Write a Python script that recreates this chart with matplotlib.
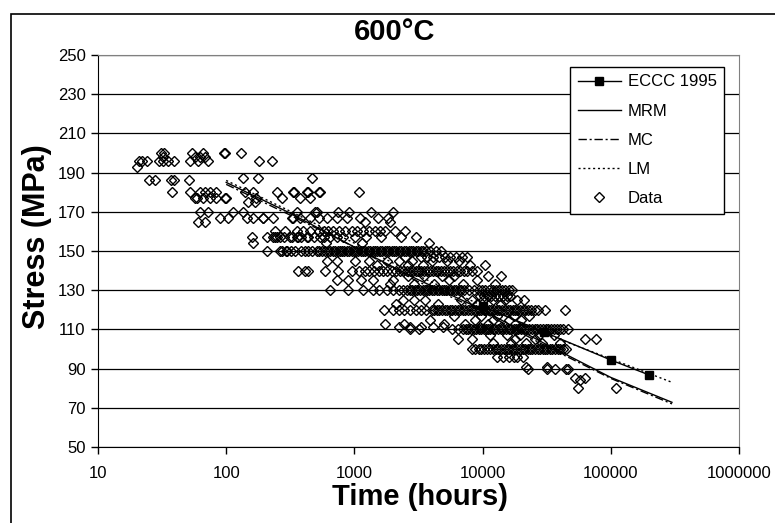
import numpy as np
import matplotlib.pyplot as plt
from matplotlib.patches import Rectangle
from matplotlib.ticker import FixedLocator, NullLocator

plt.rcParams['font.family'] = ['Liberation Sans', 'DejaVu Sans']

# model curves (time in hours, stress in MPa)
eccc_t = [10000, 30000, 100000, 200000]
eccc_s = [121.7, 108.7, 94.4, 86.7]
model_t = [100, 300, 1000, 3000, 10000, 30000, 100000, 300000]
mrm_s = [185, 170, 152, 136, 120, 103, 85.5, 72.8]
mc_s = [184, 169, 152, 135, 119, 102, 85, 72]
lm_s = [186, 171, 154, 138, 122, 108, 95, 83]

# test data, grouped by stress level (MPa) -> rupture times (h)
t_200 = [31, 33, 54, 66, 96, 97, 130]
t_198 = [32, 57, 62, 68]
t_196 = [21, 22, 24, 30, 32, 35, 39, 52, 60, 72, 180, 228]
t_193 = [20]
t_187 = [135, 178, 465]
t_186 = [25, 28, 37, 39, 51]
t_180 = [38, 52, 62, 68, 75, 84, 140, 163, 250, 330, 335, 425, 435, 525, 535,
         1090]
t_177 = [57, 59, 66, 75, 84, 98, 100, 172, 270, 375, 450]
t_175 = [148, 167]
t_170 = [62, 72, 113, 136, 355, 490, 510, 750, 915, 1350, 2010]
t_167 = [89, 104, 144, 163, 193, 195, 233, 325, 330, 375, 450, 525, 610, 730,
         870, 1100, 1540, 1840]
t_165 = [60, 68, 1200, 1900]
t_160 = [240, 285, 355, 400, 450, 525, 575, 625, 685, 765, 850, 950, 1050,
         1170, 1300, 1440, 1580, 1720, 2080, 2500]
t_157 = [158, 207, 233, 240, 250, 262, 280, 313, 325, 355, 365, 385, 425, 435,
         480, 535, 580, 640, 730, 820, 1010, 1240, 1600, 2300, 3000]
t_154 = [163, 600, 1150, 3800]
t_150 = [207, 262, 270, 295, 300, 320, 345, 380, 410, 435, 470, 510, 530, 560,
         590, 620, 650, 680, 710, 740, 770, 800, 830, 870, 910, 950, 990, 1030,
         1070, 1120, 1170, 1220, 1270, 1330, 1390, 1450, 1510, 1580, 1650, 1720,
         1790, 1870, 1950, 2040, 2130, 2230, 2330, 2430, 2540, 2650, 2770, 2890,
         3020, 3150, 3280, 3420, 3600, 3900, 4300, 4700]
t_147 = [2500, 3300, 3700, 4100, 4600, 5100, 5600, 6200, 6900, 7500]
t_145 = [610, 730, 1010, 1310, 1790, 2230, 2800, 4000, 5300, 6500]
t_143 = [1500, 2600, 3400, 8000, 10500]
t_140 = [365, 410, 435, 590, 750, 950, 1090, 1200, 1310, 1430, 1560, 1680,
         1800, 1950, 2100, 2250, 2400, 2550, 2700, 2850, 3000, 3150, 3300,
         3500, 3700, 3900, 4100, 4300, 4500, 4750, 5000, 5300, 5600, 5900,
         6300, 6700, 7200, 7600, 8200, 9000]
t_137 = [2600, 3500, 4800, 6000, 11000, 13900]
t_135 = [730, 890, 1130, 1400, 2000, 5500, 9000]
t_133 = [1900, 2900, 4200, 7000, 12500]
t_130 = [640, 890, 1170, 1400, 1560, 1790, 2010, 2230, 2400, 2570, 2700, 2800,
         2950, 3100, 3250, 3400, 3550, 3700, 3850, 4000, 4200, 4400, 4600, 4800,
         5000, 5200, 5450, 5700, 5950, 6200, 6500, 6800, 7100, 7800, 8500, 9300,
         9900, 10500, 11200, 12000, 12700, 13500, 14200, 15000, 16000, 17000]
t_127 = [9500, 10200, 11000, 11700, 12500, 13500, 14500, 15500, 16500]
t_125 = [2400, 2900, 3530, 6800, 8300, 10000, 12000, 15000, 18500, 21000]
t_123 = [2100, 4500, 9000, 14000]
t_120 = [1700, 2010, 2230, 2450, 2700, 3000, 3300, 3600, 4000, 4200, 4400,
         4600, 4800, 5050, 5300, 5550, 5800, 6100, 6400, 6700, 7000, 7350,
         7700, 8100, 8500, 8900, 9300, 9750, 10200, 10700, 11200, 11700, 12300,
         12900, 13500, 14200, 15000, 15700, 16500, 17200, 18000, 18700, 19500,
         20500, 21500, 22700, 24000, 25500, 27000, 30600, 44000]
t_117 = [6000, 9800, 13000, 17500, 23000]
t_115 = [3900, 8800, 12000, 16000, 20000]
t_113 = [1720, 2450, 5000, 7300, 11000]
t_111 = [2230, 2700, 3300, 4100, 4900, 9500, 14000, 20000]
t_110 = [2700, 3200, 5800, 6400, 7000, 7400, 7700, 8100, 8500, 8900, 9300,
         9800, 10200, 10600, 11000, 11500, 12000, 12600, 13200, 13800, 14500,
         15200, 16000, 16700, 17500, 18200, 19000, 20000, 21000, 22000, 23000,
         24200, 25500, 26700, 28000, 29500, 31000, 32500, 34000, 36000, 38000,
         40000, 42000, 46000]
t_107 = [11500, 15500, 19500, 27500, 36000]
t_105 = [6400, 8300, 17800, 25800, 63000, 77000]
t_103 = [12000, 16800, 22000, 29000, 40000]
t_100 = [8300, 8800, 9300, 9800, 10300, 10900, 11500, 12100, 12700, 13300,
         14000, 14700, 15500, 16200, 17000, 17700, 18500, 19500, 20500, 21500,
         22500, 23500, 24500, 25700, 27000, 28200, 29500, 30700, 32000, 33500,
         35000, 36700, 38500, 40200, 42000, 45000]
t_96 = [13000, 14500, 16000, 17500, 18500, 20700]
t_91 = [22000, 31600]
t_90 = [22700, 31600, 36500, 45000, 46000]
t_85 = [53000, 63000]
t_84 = [58000]
t_80 = [55000, 110000]

groups = {200: t_200, 198: t_198, 196: t_196, 193: t_193, 187: t_187,
          186: t_186, 180: t_180, 177: t_177, 175: t_175, 170: t_170,
          167: t_167, 165: t_165, 160: t_160, 157: t_157, 154: t_154,
          150: t_150, 147: t_147, 145: t_145, 143: t_143, 140: t_140,
          137: t_137, 135: t_135, 133: t_133, 130: t_130, 127: t_127,
          125: t_125, 123: t_123, 120: t_120, 117: t_117, 115: t_115,
          113: t_113, 111: t_111, 110: t_110, 107: t_107, 105: t_105,
          103: t_103, 100: t_100, 96: t_96, 91: t_91, 90: t_90, 85: t_85,
          84: t_84, 80: t_80}
data_t = np.concatenate([np.array(v, float) for v in groups.values()])
data_s = np.concatenate([np.full(len(v), k, float) for k, v in groups.items()])

fig = plt.figure(figsize=(7.75, 5.23), dpi=100)
ax = fig.add_axes([98 / 775, 1 - 447 / 523, 641 / 775, 392 / 523])

ax.plot(eccc_t, eccc_s, color='black', lw=1, marker='s', ms=5.5,
        label='ECCC 1995', zorder=3)
ax.plot(model_t, mrm_s, color='black', lw=1, label='MRM', zorder=3)
ax.plot(model_t, mc_s, color='black', lw=1, dashes=(6, 2, 1.5, 2),
        label='MC', zorder=3)
ax.plot(model_t, lm_s, color='black', lw=1, dashes=(1.5, 2), label='LM',
        zorder=3)
ax.plot(data_t, data_s, ls='none', marker='D', ms=4.8, mfc='none', mec='black',
        mew=1.0, label='Data', zorder=4)

ax.set_xscale('log')
ax.set_xlim(10, 1000000)
ax.set_ylim(50, 250)
ax.xaxis.set_major_locator(FixedLocator([10, 100, 1000, 10000, 100000, 1000000]))
ax.set_xticklabels(['10', '100', '1000', '10000', '100000', '1000000'])
ax.xaxis.set_minor_locator(NullLocator())
ax.set_yticks(np.arange(50, 251, 20))
ax.tick_params(axis='both', labelsize=12, length=5, width=1, direction='out',
               color='black', pad=4)
ax.tick_params(axis='x', pad=9)
ax.yaxis.grid(True, color='black', lw=0.9)
ax.set_axisbelow(True)
for side in ['top', 'right']:
    ax.spines[side].set_color('#808080')
for side in ['left', 'bottom']:
    ax.spines[side].set_color('black')

fig.text(395 / 775, 1 - 32 / 523, '600°C', ha='center', va='center',
         fontsize=21, fontweight='bold')
fig.text(420 / 775, 1 - 497 / 523, 'Time (hours)', ha='center', va='center',
         fontsize=21, fontweight='bold')
fig.text(37 / 775, 1 - 237 / 523, 'Stress (MPa)', ha='center', va='center',
         rotation=90, fontsize=22, fontweight='bold')

leg = ax.legend(loc='upper right', bbox_to_anchor=(724 / 775, 1 - 67 / 523),
                bbox_transform=fig.transFigure, borderaxespad=0, fontsize=12,
                numpoints=1, handlelength=2.6, handletextpad=0.4,
                labelspacing=0.85, borderpad=0.45, fancybox=False,
                framealpha=1, edgecolor='black')
leg.get_frame().set_linewidth(1)

# outer chart border
fig.patches.append(Rectangle((11 / 775, -0.05), 1.2, 1 - 14 / 523 + 0.05,
                             transform=fig.transFigure, fill=False,
                             edgecolor='black', lw=1.2))

fig.savefig('out.png', dpi=100)
